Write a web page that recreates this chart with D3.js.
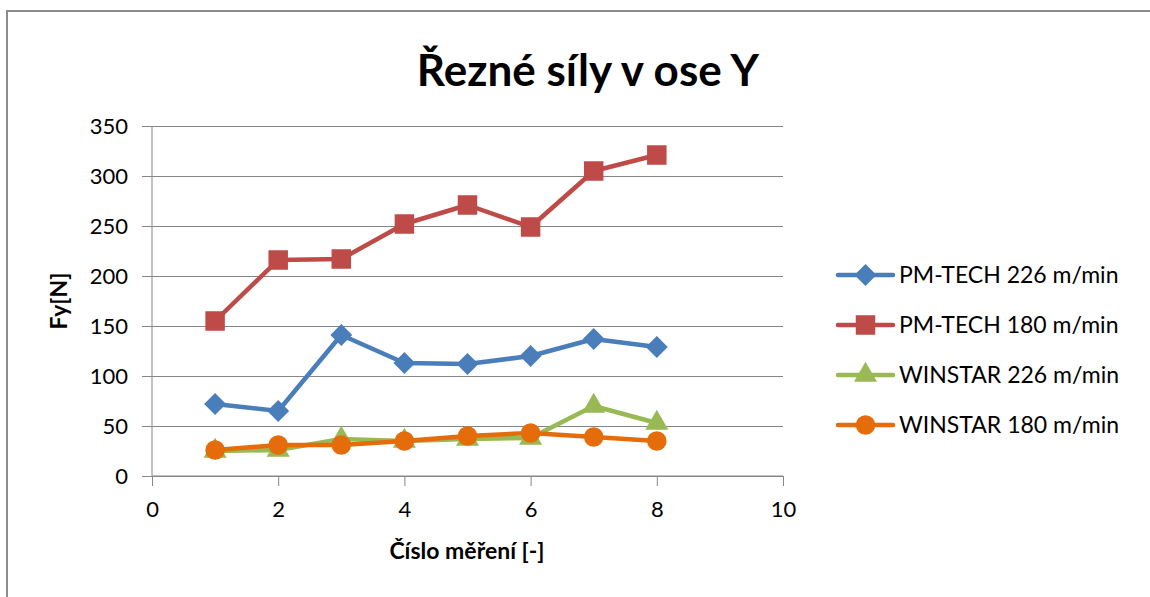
<!DOCTYPE html>
<html>
<head>
<meta charset="utf-8">
<script src="https://cdn.jsdelivr.net/npm/d3@7"></script>
<style>
  body { margin: 0; background: #fff; }
  svg { display: block; font-family: Lato, "Open Sans", sans-serif; }
</style>
</head>
<body>
<svg id="chart" width="1150" height="597"></svg>
<script>
// measurement numbers 1..8
const xs = [1, 2, 3, 4, 5, 6, 7, 8];
const pmTech226 = [72, 65, 141, 113, 112, 120, 137, 129];
const pmTech180 = [155, 216, 217, 252, 271, 249, 305, 321];
const winstar226 = [25, 26, 37, 35, 37, 38, 70, 53];
const winstar180 = [26, 31, 31, 35, 40, 43, 39, 35];
const seriesNames = ['PM-TECH 226 m/min', 'PM-TECH 180 m/min', 'WINSTAR 226 m/min', 'WINSTAR 180 m/min'];
const xTicks = [0, 2, 4, 6, 8, 10];
const yTicks = [0, 50, 100, 150, 200, 250, 300, 350];

const series = [
  { name: seriesNames[0], values: pmTech226, color: '#4a7ebb', symbol: 'diamond' },
  { name: seriesNames[1], values: pmTech180, color: '#be4b48', symbol: 'square' },
  { name: seriesNames[2], values: winstar226, color: '#98b954', symbol: 'triangle' },
  { name: seriesNames[3], values: winstar180, color: '#e46c0a', symbol: 'circle' },
];

const svg = d3.select('#chart');
const gridColor = '#868686';

// chart frame (only top and left visible)
svg.append('path')
  .attr('d', 'M7,597 V11 H1150')
  .attr('fill', 'none')
  .attr('stroke', '#8c8c8c')
  .attr('stroke-width', 2);

const x = d3.scaleLinear().domain([0, 10]).range([152, 783]);
const y = d3.scaleLinear().domain([0, 350]).range([476, 126]);

// gridlines
svg.append('g')
  .attr('transform', `translate(${x(0)},0)`)
  .call(d3.axisRight(y).tickValues(yTicks).tickSize(x(10) - x(0)).tickFormat(''))
  .call((g) => g.select('.domain').remove())
  .selectAll('line').attr('stroke', gridColor);

// y axis
const yAxis = svg.append('g')
  .attr('transform', `translate(${x(0)},0)`)
  .call(d3.axisLeft(y).tickValues(yTicks).tickSize(10).tickPadding(14));
yAxis.select('.domain').attr('stroke', gridColor).attr('d', `M0,${y(350)}V${y(0)}`);
yAxis.selectAll('line').attr('stroke', gridColor);
yAxis.selectAll('text').attr('font-size', 22).attr('fill', '#000')
  .attr('font-family', 'Lato, sans-serif');

// x axis
const xAxis = svg.append('g')
  .attr('transform', `translate(0,${y(0)})`)
  .call(d3.axisBottom(x).tickValues(xTicks).tickSize(10).tickPadding(15));
xAxis.select('.domain').attr('stroke', gridColor).attr('d', `M${x(0)},0H${x(10)}`);
xAxis.selectAll('line').attr('stroke', gridColor);
xAxis.selectAll('text').attr('font-size', 22).attr('fill', '#000')
  .attr('font-family', 'Lato, sans-serif');

// title and axis titles
svg.append('text')
  .attr('x', 588).attr('y', 86)
  .attr('text-anchor', 'middle')
  .attr('font-size', 44).attr('font-weight', 'bold')
  .text('Řezné síly v ose Y');

svg.append('text')
  .attr('x', 467).attr('y', 559)
  .attr('text-anchor', 'middle')
  .attr('font-size', 23).attr('font-weight', 'bold')
  .text('Číslo měření [-]');

svg.append('text')
  .attr('transform', 'translate(67,301) rotate(-90)')
  .attr('text-anchor', 'middle')
  .attr('font-size', 23).attr('font-weight', 'bold')
  .text('Fy[N]');

// square diamond (rotated square), as in the office chart markers
const squareDiamond = {
  draw(context, size) {
    const r = Math.sqrt(size / 2);
    context.moveTo(0, -r);
    context.lineTo(r, 0);
    context.lineTo(0, r);
    context.lineTo(-r, 0);
    context.closePath();
  },
};

const symbolTypes = {
  diamond: squareDiamond,
  square: d3.symbolSquare,
  triangle: d3.symbolTriangle,
  circle: d3.symbolCircle,
};
const symbolSizes = { diamond: 240, square: 380, triangle: 230, circle: 300 };

const line = d3.line()
  .x((d, i) => x(xs[i]))
  .y((d) => y(d));

series.forEach((s) => {
  const g = svg.append('g');
  g.append('path')
    .datum(s.values)
    .attr('fill', 'none')
    .attr('stroke', s.color)
    .attr('stroke-width', 4.5)
    .attr('stroke-linejoin', 'round')
    .attr('d', line);
  g.selectAll('path.mark')
    .data(s.values)
    .join('path')
    .attr('class', 'mark')
    .attr('transform', (d, i) => `translate(${x(xs[i])},${y(d)})`)
    .attr('fill', s.color)
    .attr('d', d3.symbol(symbolTypes[s.symbol], symbolSizes[s.symbol]));
});

// legend
const legend = svg.append('g');
series.forEach((s, i) => {
  const ly = 275 + i * 50;
  legend.append('line')
    .attr('x1', 838).attr('x2', 893)
    .attr('y1', ly).attr('y2', ly)
    .attr('stroke', s.color).attr('stroke-width', 4.5)
    .attr('stroke-linecap', 'round');
  legend.append('path')
    .attr('transform', `translate(865.5,${ly})`)
    .attr('fill', s.color)
    .attr('d', d3.symbol(symbolTypes[s.symbol], symbolSizes[s.symbol]));
  legend.append('text')
    .attr('x', 899).attr('y', ly + 8)
    .attr('font-size', 23)
    .text(s.name);
});
</script>
</body>
</html>
